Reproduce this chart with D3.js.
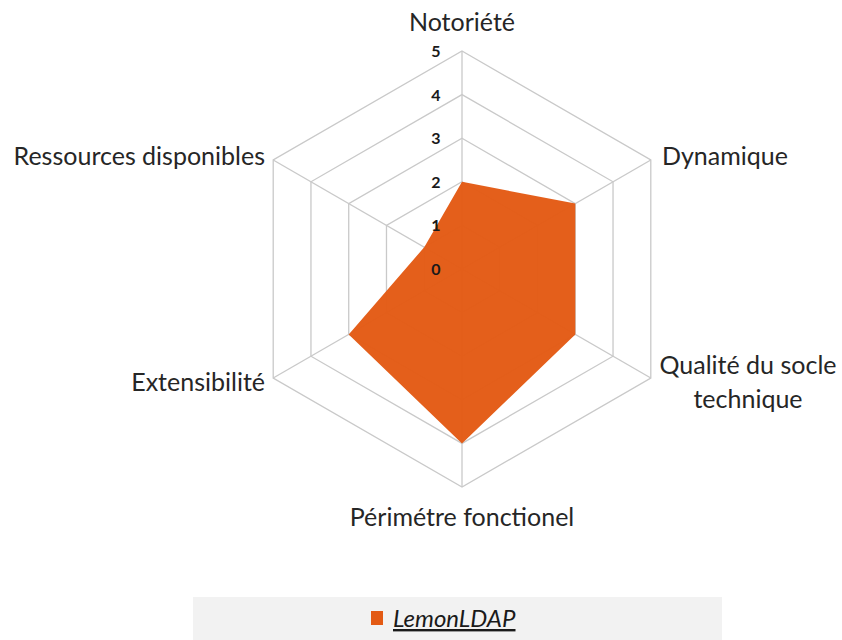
<!DOCTYPE html>
<html>
<head>
<meta charset="utf-8">
<script src="https://cdn.jsdelivr.net/npm/d3@7"></script>
<style>
  body { margin: 0; background: #fff; }
  svg { font-family: Lato, "Open Sans", sans-serif; }
</style>
</head>
<body>
<svg id="chart" width="842" height="640"></svg>
<script>
var categories = ["Notoriété", "Dynamique", "Qualité du socle technique", "Périmétre fonctionel", "Extensibilité", "Ressources disponibles"]
var values = [2, 3, 3, 4, 3, 1]
var ticks = [0, 1, 2, 3, 4, 5]
var seriesName = "LemonLDAP"

var dims = { width: 842, height: 640, cx: 462, cy: 269, radius: 218 }
var orange = "#e35a14"

var svg = d3.select("#chart")

var rScale = d3.scaleLinear().domain([0, 5]).range([0, dims.radius])
var angle = i => i * 2 * Math.PI / categories.length

function pt(i, v) {
  var a = angle(i)
  return [dims.cx + rScale(v) * Math.sin(a), dims.cy - rScale(v) * Math.cos(a)]
}

// grid rings
var grid = svg.append("g")
ticks.slice(1).forEach(function(t) {
  var pts = categories.map((c, i) => pt(i, t))
  grid.append("polygon")
    .attr("points", pts.map(p => p.join(",")).join(" "))
    .attr("fill", "none")
    .attr("stroke", "#c9c9c9")
    .attr("stroke-width", 1.3)
})
// spokes
categories.forEach(function(c, i) {
  var p = pt(i, 5)
  grid.append("line")
    .attr("x1", dims.cx).attr("y1", dims.cy)
    .attr("x2", p[0]).attr("y2", p[1])
    .attr("stroke", "#c9c9c9")
    .attr("stroke-width", 1.3)
})

// data area
var line = d3.line().curve(d3.curveLinearClosed)
svg.append("path")
  .attr("d", line(values.map((v, i) => pt(i, v))))
  .attr("fill", orange)
  .attr("fill-opacity", 0.97)

// tick labels
svg.append("g").selectAll("text")
  .data(ticks)
  .enter()
  .append("text")
  .attr("x", dims.cx - 26)
  .attr("y", d => dims.cy - rScale(d) + 6)
  .attr("text-anchor", "middle")
  .style("font-size", "16px")
  .style("font-weight", "bold")
  .attr("fill", "#1a1a1a")
  .text(d => d)

// category labels
var labelPos = [
  { x: 462, y: 31, anchor: "middle", lines: ["Notoriété"] },
  { x: 662, y: 165, anchor: "start", lines: ["Dynamique"] },
  { x: 748, y: 374, anchor: "middle", lines: ["Qualité du socle", "technique"] },
  { x: 462, y: 526, anchor: "middle", lines: ["Périmétre fonctionel"] },
  { x: 265, y: 391, anchor: "end", lines: ["Extensibilité"] },
  { x: 265, y: 165, anchor: "end", lines: ["Ressources disponibles"] }
]
labelPos.forEach(function(l) {
  var t = svg.append("text")
    .attr("x", l.x).attr("y", l.y)
    .attr("text-anchor", l.anchor)
    .style("font-size", "25px")
    .attr("fill", "#262626")
  l.lines.forEach(function(s, j) {
    t.append("tspan").attr("x", l.x).attr("dy", j ? 34 : 0).text(s)
  })
})

// legend
var legend = svg.append("g")
legend.append("rect")
  .attr("x", 193).attr("y", 597)
  .attr("width", 529).attr("height", 50)
  .attr("fill", "#f2f2f2")
legend.append("rect")
  .attr("x", 371).attr("y", 611)
  .attr("width", 12).attr("height", 14)
  .attr("fill", orange)
legend.append("text")
  .attr("x", 393).attr("y", 627)
  .style("font-size", "24px")
  .style("font-style", "italic")
  .style("text-decoration", "underline")
  .attr("fill", "#1a1a1a")
  .text(seriesName)
</script>
</body>
</html>
